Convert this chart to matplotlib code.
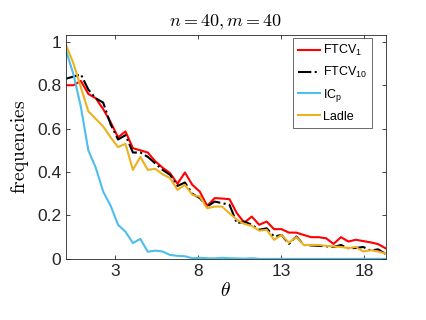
import matplotlib
matplotlib.use("Agg")
import matplotlib.pyplot as plt
import numpy as np

plt.rcParams['mathtext.fontset'] = 'cm'
plt.rcParams['font.family'] = ['Liberation Sans', 'DejaVu Sans']

# theta grid (44 points across the axis)
theta = np.linspace(0.07, 19.29, 44)

ftcv1 = [0.80, 0.80, 0.82, 0.76, 0.74, 0.69, 0.63, 0.56, 0.587, 0.51,
         0.50, 0.49, 0.45, 0.42, 0.395, 0.346, 0.398, 0.341, 0.31, 0.244,
         0.28, 0.278, 0.275, 0.21, 0.167, 0.195, 0.157, 0.172, 0.137, 0.137,
         0.121, 0.121, 0.11, 0.10, 0.10, 0.095, 0.069, 0.10, 0.08, 0.088,
         0.082, 0.076, 0.068, 0.049]
ftcv10 = [0.83, 0.84, 0.85, 0.78, 0.74, 0.72, 0.62, 0.55, 0.57, 0.49,
          0.49, 0.47, 0.44, 0.41, 0.387, 0.336, 0.352, 0.30, 0.28, 0.241,
          0.264, 0.257, 0.249, 0.164, 0.172, 0.157, 0.134, 0.141, 0.103, 0.11,
          0.069, 0.103, 0.064, 0.062, 0.06, 0.058, 0.055, 0.064, 0.049, 0.05,
          0.055, 0.038, 0.044, 0.023]
icp = [0.96, 0.85, 0.70, 0.50, 0.42, 0.31, 0.245, 0.157, 0.125, 0.073,
       0.092, 0.033, 0.038, 0.034, 0.018, 0.014, 0.012, 0.003, 0.005, 0.003,
       0.002, 0.005, 0.003, 0.002, 0.001, 0.003, 0, 0, 0, 0,
       0, 0, 0, 0, 0, 0, 0, 0, 0, 0,
       0, 0, 0, 0]
ladle = [0.985, 0.90, 0.79, 0.68, 0.645, 0.61, 0.56, 0.515, 0.53, 0.41,
         0.47, 0.41, 0.415, 0.39, 0.372, 0.318, 0.341, 0.295, 0.287, 0.233,
         0.241, 0.241, 0.21, 0.18, 0.161, 0.152, 0.13, 0.134, 0.088, 0.11,
         0.075, 0.10, 0.064, 0.064, 0.064, 0.06, 0.057, 0.055, 0.05, 0.055,
         0.034, 0.04, 0.034, 0.025]

xticks = [3, 8, 13, 18]
yticks = [0, 0.2, 0.4, 0.6, 0.8, 1]
ytick_labels = ['0', '0.2', '0.4', '0.6', '0.8', '1']

fig = plt.figure(figsize=(4.26, 3.2), dpi=100)
ax = fig.add_axes([0.155, 0.191, 0.75, 0.70])

ax.plot(theta, ftcv1, color='#FF0000', lw=1.5, label='FTCV$\\mathregular{_1}$')
ax.plot(theta, ftcv10, color='black', lw=1.5, ls='-.', label='FTCV$\\mathregular{_{10}}$')
ax.plot(theta, icp, color='#4DBEEE', lw=1.5, label='IC$\\mathregular{_p}$')
ax.plot(theta, ladle, color='#EDB120', lw=1.5, label='Ladle')

ax.set_xlim(theta[0], theta[-1])
ax.set_ylim(0, 1.032)
ax.set_xticks(xticks)
ax.set_yticks(yticks)
ax.set_yticklabels(ytick_labels)
ax.tick_params(direction='in', top=True, right=True, labelsize=12.5,
               length=3, width=0.6, color='#262626', labelcolor='#262626')
for s in ax.spines.values():
    s.set_linewidth(0.6)
    s.set_color('#262626')

ax.set_title('$n=40, m=40$', fontsize=13)
ax.set_xlabel('$\\theta$', fontsize=14, labelpad=2)
ax.set_ylabel('$\\mathrm{frequencies}$', fontsize=14, labelpad=4)

leg = ax.legend(loc='upper right', bbox_to_anchor=(372 / 426, 1 - 38 / 320),
                bbox_transform=fig.transFigure, fontsize=9, frameon=True,
                fancybox=False, handlelength=1.8, handletextpad=0.2,
                labelspacing=0.55, borderpad=0.4, borderaxespad=0)
leg.get_frame().set_edgecolor('#262626')
leg.get_frame().set_linewidth(0.6)

fig.savefig('out.png', dpi=100)
